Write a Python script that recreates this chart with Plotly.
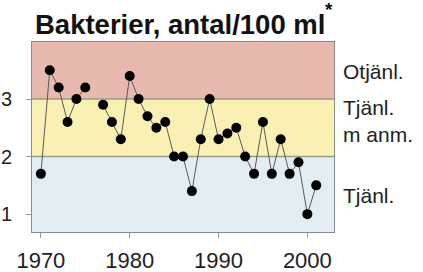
import plotly.graph_objects as go

years = list(range(1970, 2002))
values = [1.7, 3.5, 3.2, 2.6, 3.0, 3.2, None, 2.9, 2.6, 2.3,
          3.4, 3.0, 2.7, 2.5, 2.6, 2.0, 2.0, 1.4, 2.3, 3.0,
          2.3, 2.4, 2.5, 2.0, 1.7, 2.6, 1.7, 2.3, 1.7, 1.9,
          1.0, 1.5]
x_ticks = [1970, 1980, 1990, 2000]
y_ticks = [1, 2, 3]
band_edges = [0.69, 2, 3, 3.99]
band_colors = ["#E2EDF1", "#FBF0B3", "#E8B9AE"]
band_labels = ["Tjänl.", "Tjänl.<br>m anm.", "Otjänl."]
label_y = [1.33, 2.62, 3.47]
title_text = "<b>Bakterier, antal/100 ml</b>"
title_mark = "<b>*</b>"

FONT = "Liberation Sans, Arial, sans-serif"

fig = go.Figure()
shapes = []
for i, c in enumerate(band_colors):
    shapes.append(dict(type="rect", xref="paper", yref="y", x0=0, x1=1,
                       y0=band_edges[i], y1=band_edges[i + 1],
                       fillcolor=c, line_width=0, layer="below"))
for yv in [2, 3]:
    shapes.append(dict(type="line", xref="paper", yref="y", x0=0, x1=1,
                       y0=yv, y1=yv, line=dict(color="#9C9A86", width=1.5),
                       layer="below"))

fig.add_trace(go.Scatter(
    x=years, y=values, mode="lines+markers", connectgaps=False,
    line=dict(color="#5a5a5a", width=1),
    marker=dict(color="black", size=10),
    hoverinfo="skip", showlegend=False))

annotations = [
    dict(text=title_text, xref="paper", yref="paper",
         x=(33 - 32) / 302, y=1 + (42 - 25) / 190,
         xanchor="left", yanchor="middle",
         showarrow=False, font=dict(family=FONT, size=27.5, color="#111")),
    dict(text=title_mark, xref="paper", yref="paper",
         x=(323 - 32) / 302, y=1 + (42 - 10) / 190,
         xanchor="left", yanchor="middle",
         showarrow=False, font=dict(family=FONT, size=19, color="#111")),
]
for t, yv in zip(band_labels, label_y):
    annotations.append(dict(text=t, xref="paper", yref="y", x=1, y=yv,
                            xanchor="left", yanchor="middle", xshift=7,
                            align="left", showarrow=False,
                            font=dict(family=FONT, size=21, color="#222")))

fig.update_layout(
    width=423, height=272,
    margin=dict(l=32, r=89, t=42, b=40, autoexpand=False),
    paper_bgcolor="white", plot_bgcolor="white",
    shapes=shapes,
    annotations=annotations,
    xaxis=dict(range=[1969, 2003], tickvals=x_ticks, ticks="outside", ticklen=5,
               tickcolor="#999", showgrid=False, zeroline=False, automargin=False,
               showline=True, linecolor="#8a8a8a", linewidth=1, mirror=True,
               ticklabelstandoff=4,
               tickfont=dict(family=FONT, size=22, color="#222")),
    yaxis=dict(range=[0.69, 3.99], tickvals=y_ticks, ticks="outside", ticklen=5,
               tickcolor="#999", showgrid=False, zeroline=False, automargin=False,
               showline=True, linecolor="#8a8a8a", linewidth=1, mirror=True,
               ticklabelstandoff=10,
               tickfont=dict(family=FONT, size=20, color="#222")),
)

fig.write_html("out.html", config={"displayModeBar": False},
               post_script="document.body.style.margin='0';document.body.style.padding='0';")
